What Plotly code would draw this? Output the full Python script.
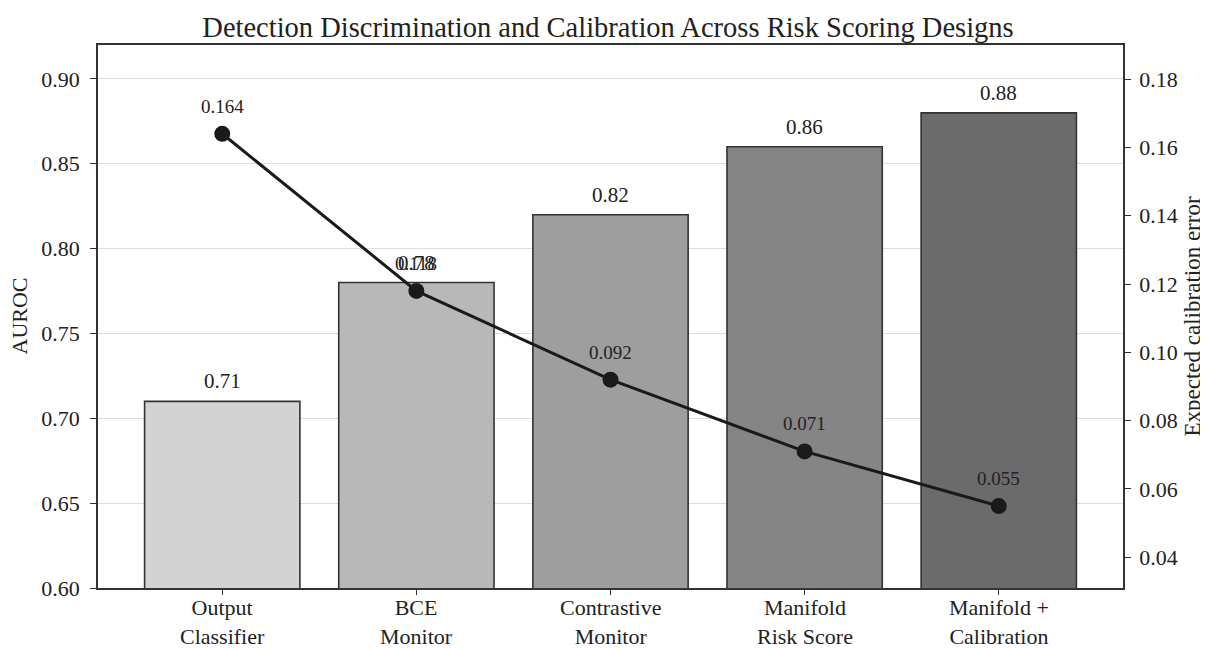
import plotly.graph_objects as go

categories = ["Output<br>Classifier", "BCE<br>Monitor", "Contrastive<br>Monitor",
              "Manifold<br>Risk Score", "Manifold +<br>Calibration"]
auroc = [0.71, 0.78, 0.82, 0.86, 0.88]
ece = [0.164, 0.118, 0.092, 0.071, 0.055]
bar_colors = ["#d3d3d3", "#b8b8b8", "#9e9e9e", "#858585", "#6b6b6b"]
left_ticks = [0.60, 0.65, 0.70, 0.75, 0.80, 0.85, 0.90]
right_ticks = [0.04, 0.06, 0.08, 0.10, 0.12, 0.14, 0.16, 0.18]

FONT = "Liberation Serif"
TXT = "#222222"
x = list(range(len(categories)))

fig = go.Figure()
fig.add_trace(go.Bar(
    x=x, y=auroc, width=0.8,
    marker=dict(color=bar_colors, line=dict(color="#333333", width=1.6)),
    yaxis="y", showlegend=False, hoverinfo="skip",
))
fig.add_trace(go.Scatter(
    x=x, y=ece, mode="lines+markers", yaxis="y2",
    line=dict(color="#1a1a1a", width=3),
    marker=dict(color="#1a1a1a", size=16),
    showlegend=False,
))

annotations = []
for xi, v in zip(x, auroc):
    annotations.append(dict(x=xi, y=v, xref="x", yref="y", text=f"{v:.2f}",
                            showarrow=False, yanchor="bottom", yshift=6,
                            font=dict(family=FONT, size=21, color=TXT)))
for xi, v in zip(x, ece):
    annotations.append(dict(x=xi, y=v, xref="x", yref="y2", text=f"{v:.3f}",
                            showarrow=False, yanchor="bottom", yshift=15,
                            font=dict(family=FONT, size=19, color=TXT)))
# category labels (two lines each)
for xi, c in zip(x, categories):
    annotations.append(dict(x=xi, y=0, xref="x", yref="paper", text=c,
                            showarrow=False, yanchor="top", yshift=-5,
                            font=dict(family=FONT, size=22, color=TXT)))
# axis titles
annotations.append(dict(x=0, y=0.5, xref="paper", yref="paper", text="AUROC",
                        showarrow=False, textangle=-90, xanchor="center",
                        yanchor="middle", xshift=-79,
                        font=dict(family=FONT, size=22, color=TXT)))
annotations.append(dict(x=1, y=0.5, xref="paper", yref="paper",
                        text="Expected calibration error",
                        showarrow=False, textangle=-90, xanchor="center",
                        yanchor="middle", xshift=69,
                        font=dict(family=FONT, size=23, color=TXT)))

fig.update_layout(
    width=1200, height=640,
    margin=dict(l=90, r=85, t=37, b=60),
    paper_bgcolor="white", plot_bgcolor="white",
    font=dict(family=FONT, size=22, color=TXT),
    title=dict(text="Detection Discrimination and Calibration Across Risk Scoring Designs",
               x=0.5, xanchor="center", y=0.97, yanchor="middle",
               font=dict(family=FONT, size=28.5, color=TXT)),
    xaxis=dict(range=[-0.64, 4.64], tickmode="array", tickvals=x,
               showticklabels=False,
               showline=True, linecolor="#333333", linewidth=1.6, mirror=True,
               ticks="outside", ticklen=5, tickcolor="#333333", showgrid=False,
               automargin=False, zeroline=False),
    yaxis=dict(range=[0.60, 0.92], tickmode="array", tickvals=left_ticks,
               tickformat=".2f", ticklabelstandoff=6,
               showline=True, linecolor="#333333", linewidth=1.6,
               ticks="outside", ticklen=6, tickcolor="#333333", automargin=False,
               showgrid=True, gridcolor="#dddddd", gridwidth=1.2, zeroline=False,
               tickfont=dict(family=FONT, size=22, color=TXT)),
    yaxis2=dict(range=[0.031, 0.190], overlaying="y", side="right", tickmode="array",
                tickvals=right_ticks, tickformat=".2f", ticklabelstandoff=4,
                showline=True, linecolor="#333333", linewidth=1.6,
                ticks="outside", ticklen=6, tickcolor="#333333", automargin=False,
                showgrid=False, zeroline=False,
                tickfont=dict(family=FONT, size=22, color=TXT)),
    annotations=annotations,
)

fig.write_html("out.html")
